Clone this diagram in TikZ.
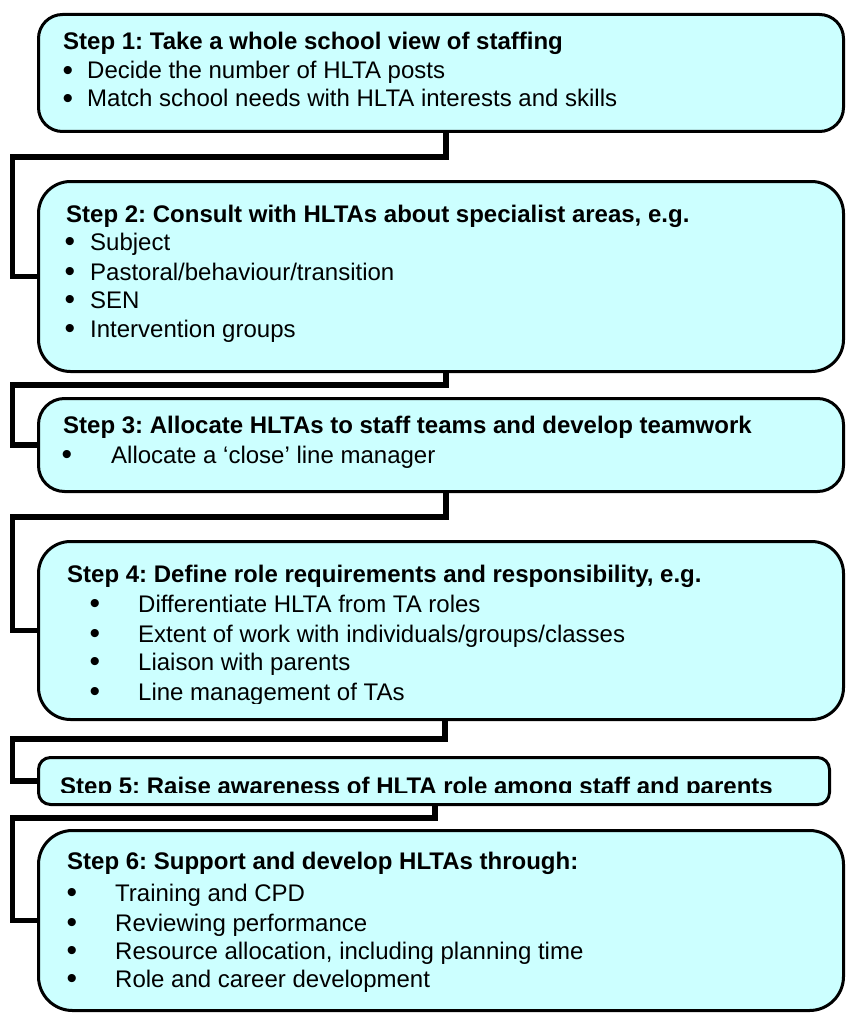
\documentclass[tikz,border=0pt]{standalone}
\usepackage{fontspec}
\setmainfont{Liberation Sans}
\usetikzlibrary{backgrounds}
\definecolor{boxfill}{RGB}{204,255,255}
\frenchspacing
\begin{document}
\frenchspacing
\begin{tikzpicture}[x=1pt,y=-1pt,
  stepbox/.style={draw=black, line width=3pt, fill=boxfill, inner sep=0pt, minimum width=805pt},
  conn/.style={draw=black, line width=5.5pt, line join=miter},
  head/.style={anchor=base west, inner sep=0pt, font=\fontsize{24}{28}\selectfont\bfseries\frenchspacing},
  item/.style={anchor=base west, inner sep=0pt, font=\fontsize{24}{28}\selectfont\frenchspacing},
  dot/.style={anchor=base, inner sep=0pt, yshift=-1.5pt, font=\fontsize{30}{32}\selectfont}]
\useasboundingbox (0,0) rectangle (846,1014);

% boxes
\node[stepbox, minimum height=117pt, rounded corners=24pt] (b1) at (441,73) {};
\node[stepbox, minimum height=190pt, rounded corners=32pt] (b2) at (441,276.5) {};
\node[stepbox, minimum height=93pt, rounded corners=26pt] (b3) at (441,445) {};
\node[stepbox, minimum height=178pt, rounded corners=32pt] (b4) at (441,630.5) {};
\node[stepbox, minimum width=791pt, minimum height=47pt, rounded corners=12pt] (b5) at (434,781) {};
\node[stepbox, minimum height=180pt, rounded corners=34pt] (b6) at (441,920.5) {};

% connectors
\begin{scope}[on background layer]
\draw[conn] (b1.south -| 446,0) |- (12.7,157) |- (b2.west);
\draw[conn] (b2.south -| 446,0) |- (12.7,385) |- (b3.west);
\draw[conn] (b3.south -| 446,0) |- (12.7,517) |- (b4.west);
\draw[conn] (b4.south -| 445,0) |- (12.7,739) |- (b5.west);
\draw[conn] (b5.south -| 435,0) |- (12.7,818) |- (b6.west);
\end{scope}

% Step 1
\node[head] (h1) at (63,50) {Step 1: Take a whole school view of staffing};
\node[dot] (d1a) at (68,79) {•};
\node[item] (i1a) at (87,79) {Decide the number of HLTA posts};
\node[dot] (d1b) at (68,107) {•};
\node[item] (i1b) at (87,107) {Match school needs with HLTA interests and skills};

% Step 2
\node[head] (h2) at (66,222) {Step 2: Consult with HLTAs about specialist areas, e.g.};
\node[dot] (d2a) at (70,250) {•};
\node[item] (i2a) at (90,250) {Subject};
\node[dot] (d2b) at (70,280) {•};
\node[item] (i2b) at (90,280) {Pastoral/behaviour/transition};
\node[dot] (d2c) at (70,308) {•};
\node[item] (i2c) at (90,308) {SEN};
\node[dot] (d2d) at (70,337) {•};
\node[item] (i2d) at (90,337) {Intervention groups};

% Step 3
\node[head] (h3) at (63,433) {Step 3: Allocate HLTAs to staff teams and develop teamwork};
\node[dot] (d3a) at (67,463) {•};
\node[item] (i3a) at (111,463) {Allocate a ‘close’ line manager};

% Step 4
\node[head] (h4) at (67,582) {Step 4: Define role requirements and responsibility, e.g.};
\node[dot] (d4a) at (95,612) {•};
\node[item] (i4a) at (138,612) {Differentiate HLTA from TA roles};
\node[dot] (d4b) at (95,642) {•};
\node[item] (i4b) at (138,642) {Extent of work with individuals/groups/classes};
\node[dot] (d4c) at (95,670) {•};
\node[item] (i4c) at (138,670) {Liaison with parents};
\begin{scope}
\clip (0,0) rectangle (846,703);
\node[dot] (d4d) at (95,700) {•};
\node[item] (i4d) at (138,700) {Line management of TAs};
\end{scope}

% Step 5
\begin{scope}
\clip (0,0) rectangle (846,792.5);
\node[head] (h5) at (60,794) {Step 5: Raise awareness of HLTA role among staff and parents};
\end{scope}

% Step 6
\node[head] (h6) at (67,869) {Step 6: Support and develop HLTAs through:};
\node[dot] (d6a) at (72,901) {•};
\node[item] (i6a) at (115,901) {Training and CPD};
\node[dot] (d6b) at (72,931) {•};
\node[item] (i6b) at (115,931) {Reviewing performance};
\node[dot] (d6c) at (72,959) {•};
\node[item] (i6c) at (115,959) {Resource allocation, including planning time};
\node[dot] (d6d) at (72,987) {•};
\node[item] (i6d) at (115,987) {Role and career development};
\end{tikzpicture}
\end{document}
